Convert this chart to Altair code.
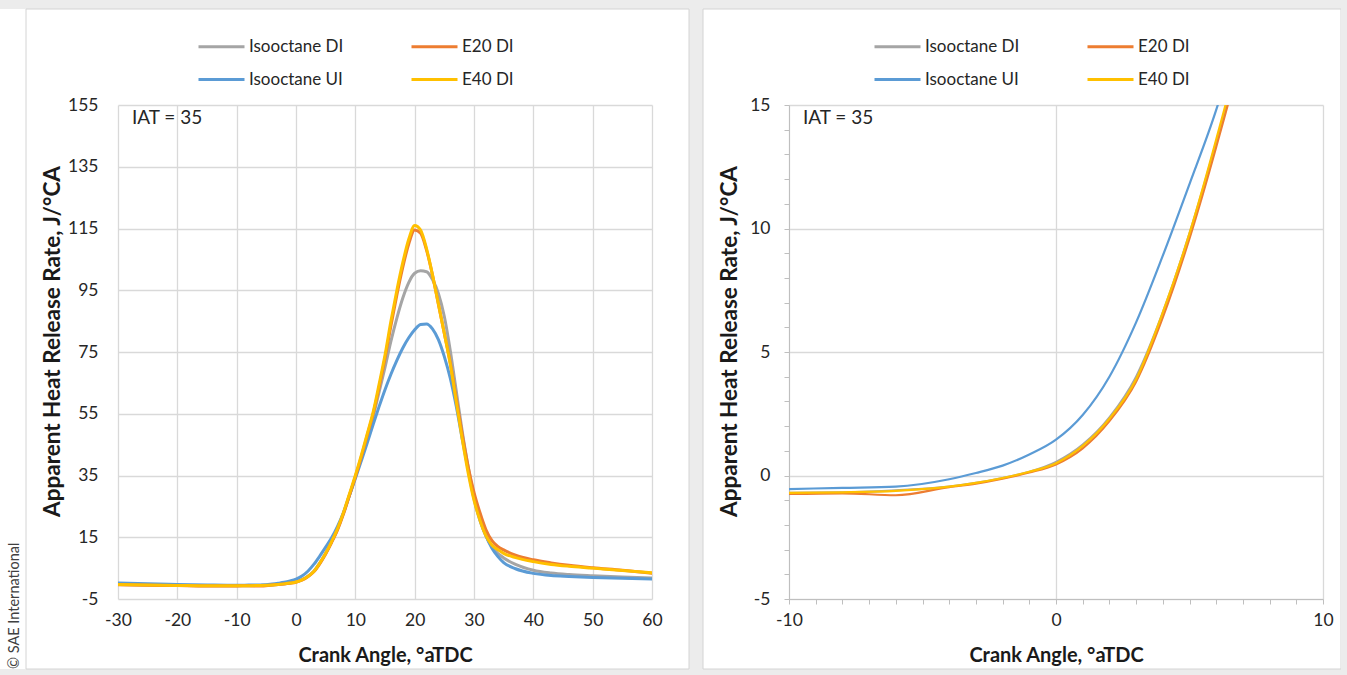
import altair as alt
import pandas as pd

FONT = "Lato"

# ---------------- data ----------------
series_names = ["Isooctane DI", "Isooctane UI", "E20 DI", "E40 DI"]   # drawing order
legend_order = ["Isooctane DI", "E20 DI", "Isooctane UI", "E40 DI"]
legend_colors = ["#A5A5A5", "#ED7D31", "#5B9BD5", "#FFC000"]

crank_angle = [-30, -25, -20, -15, -10, -8, -6, -4, -3, -2, -1,
               0, 1, 2, 3, 4, 5, 6, 7, 8, 9, 10, 11, 12, 13, 14, 15, 16, 17, 18, 19,
               20, 21, 22, 23, 24, 25, 26, 27, 28, 29, 30, 31, 32, 33, 34, 35,
               37, 40, 43, 46, 50, 55, 60]

isooctane_di = [-0.3, -0.5, -0.6, -0.7, -0.7, -0.68, -0.6, -0.45, -0.3, -0.1, 0.15,
                0.55, 1.25, 2.35, 4.0, 6.6, 9.8, 13.5, 17.6, 22.8, 28.5, 34.5, 40.5, 47, 54, 62, 70, 78.5, 86, 92.5, 97.5,
                100.5, 101.3, 101, 98.5, 94, 86.5, 75.5, 62.5, 49.5, 38, 28.5, 21, 15.5, 12, 9.8, 8.3,
                6.2, 4.3, 3.4, 2.9, 2.5, 2.1, 1.8]

isooctane_ui = [0.2, -0.1, -0.3, -0.45, -0.55, -0.5, -0.45, -0.15, 0.1, 0.4, 0.85,
                1.45, 2.45, 4.0, 6.2, 8.9, 11.8, 14.8, 18.5, 23, 28.5, 34, 39.7, 45.5, 51.5, 57.3, 62.8, 67.8, 72.3, 76.3, 79.6,
                82.2, 83.9, 84.1, 82.5, 79, 73.5, 66.5, 57.5, 47, 37, 27.5, 20.5, 15.5, 11.5, 8.8, 6.8,
                4.8, 3.3, 2.6, 2.3, 2.0, 1.7, 1.5]

e20_di = [-0.4, -0.55, -0.65, -0.75, -0.75, -0.72, -0.8, -0.47, -0.33, -0.13, 0.12,
          0.45, 1.1, 2.2, 3.8, 6.4, 9.6, 13.3, 17.4, 22.5, 28.5, 34.5, 41, 48, 55, 63.5, 73, 83.5, 93.5, 102.5, 110,
          114.5, 113.5, 108, 100, 90.5, 81, 71.5, 60, 48.5, 38, 29.5, 23, 17.5, 14, 12, 10.9,
          9.2, 7.7, 6.7, 5.9, 5.1, 4.3, 3.3]

e40_di = [-0.3, -0.5, -0.6, -0.7, -0.7, -0.68, -0.62, -0.45, -0.3, -0.1, 0.15,
          0.5, 1.2, 2.3, 3.9, 6.6, 9.8, 13.6, 17.8, 23, 29, 35, 41.5, 48.5, 55.5, 64.5, 74, 85, 95, 104, 111.5,
          116, 114.5, 108.5, 100, 90.5, 81, 71, 59, 47, 36, 27, 20.5, 15.5, 12.5, 11, 9.8,
          8.4, 7.1, 6.2, 5.6, 5.0, 4.2, 3.5]

values_by_series = [isooctane_di, isooctane_ui, e20_di, e40_di]

rows = []
for name, vals in zip(series_names, values_by_series):
    for x, v in zip(crank_angle, vals):
        rows.append({"Fuel": name, "CA": x, "HRR": v})
df = pd.DataFrame(rows)

one = pd.DataFrame({"k": [0]})

W, H = 534, 494
GRID = "#d9d9d9"
TXT = "#262626"
TITLE = "#1a1a1a"
HYPHEN = "replace(datum.label, '\u2212', '-')"


def legend(lx):
    return alt.Legend(title=None, orient="none", legendX=lx, legendY=-83,
                      direction="horizontal", columns=2, symbolType="stroke",
                      symbolSize=2116, symbolStrokeWidth=2.8, labelFont=FONT,
                      labelFontSize=17, labelColor=TXT, labelOffset=3,
                      columnPadding=61, rowPadding=-18)


def color_enc(lx):
    return alt.Color("Fuel:N", scale=alt.Scale(domain=legend_order, range=legend_colors),
                     legend=legend(lx))


def deco_rect(x, x2, y, y2, **kw):
    return alt.Chart(one).mark_rect(**kw).encode(
        x=alt.value(x), x2=alt.value(x2), y=alt.value(y), y2=alt.value(y2))


def iat_text():
    return alt.Chart(one).mark_text(text="IAT = 35", align="left", baseline="middle",
                                    font=FONT, fontSize=19, color=TXT).encode(
        x=alt.value(14), y=alt.value(13))


# ---------------- left panel ----------------
left_lines = alt.Chart(df).mark_line(strokeWidth=3, strokeCap="round", strokeJoin="round",
                                     interpolate="monotone", clip=True).encode(
    x=alt.X("CA:Q", scale=alt.Scale(domain=[-30, 60], nice=False, zero=False),
            axis=alt.Axis(values=list(range(-30, 61, 10)), title="Crank Angle, °aTDC",
                          labelExpr=HYPHEN, titleFontSize=20,
                          grid=True, ticks=False, domain=False, labelFlush=False,
                          labelPadding=12, titlePadding=17)),
    y=alt.Y("HRR:Q", scale=alt.Scale(domain=[-5, 155], nice=False, zero=False),
            axis=alt.Axis(values=list(range(-5, 156, 20)), title="Apparent Heat Release Rate, J/°CA",
                          labelExpr=HYPHEN, titleFontSize=22.5, titleY=236,
                          grid=True, ticks=False, domain=False, labelPadding=20, titlePadding=3)),
    color=color_enc(79),
)

left = alt.layer(
    deco_rect(-118, 1229, -105, -96, color="#ececec"),
    deco_rect(571, 585, -96, 564, color="#ececec"),
    deco_rect(-118, 1229, 564, 570, color="#ececec"),
    deco_rect(-92, 571, -96, 564, fillOpacity=0, stroke="#d4d4d4", strokeWidth=1),
    left_lines,
    iat_text(),
    alt.Chart(one).mark_text(text="© SAE International", angle=270, align="left",
                             baseline="middle", font=FONT, fontSize=14.5, color="#404040").encode(
        x=alt.value(-103), y=alt.value(564)),
).properties(width=W, height=H)

# ---------------- right panel ----------------
right_lines = alt.Chart(df).transform_filter(
    "datum.CA >= -10 && datum.CA <= 10"
).mark_line(strokeWidth=2.2, strokeCap="round", strokeJoin="round",
            interpolate="monotone", clip=True).encode(
    x=alt.X("CA:Q", scale=alt.Scale(domain=[-10, 10], nice=False, zero=False),
            axis=alt.Axis(values=list(range(-10, 11)), title="Crank Angle, °aTDC",
                          labelExpr="datum.value % 10 === 0 ? " + HYPHEN + " : ''",
                          gridOpacity={"condition": {"test": "datum.value % 10 === 0", "value": 1}, "value": 0},
                          titleFontSize=20,
                          grid=True, ticks=True, tickSize=5, domain=True, labelFlush=False,
                          labelOverlap=False, labelPadding=7, titlePadding=17)),
    y=alt.Y("HRR:Q", scale=alt.Scale(domain=[-5, 15], nice=False, zero=False),
            axis=alt.Axis(values=list(range(-5, 16)), title="Apparent Heat Release Rate, J/°CA",
                          labelExpr="datum.value % 5 === 0 ? " + HYPHEN + " : ''",
                          gridOpacity={"condition": {"test": "datum.value % 5 === 0", "value": 1}, "value": 0},
                          titleFontSize=22.5, titleY=236,
                          grid=True, ticks=True, tickSize=5, domain=True, labelOverlap=False,
                          labelPadding=14, titlePadding=8)),
    color=color_enc(84),
)

right = alt.layer(
    deco_rect(-86, 552, -96, 564, fillOpacity=0, stroke="#d4d4d4", strokeWidth=1),
    deco_rect(552, 558, -96, 564, color="#ececec"),
    right_lines,
    iat_text(),
).properties(width=W, height=H)

chart = alt.hconcat(left, right, spacing=137, bounds="flush").resolve_scale(
    color="independent"
).properties(
    padding=0, background="white"
).configure_view(
    stroke=None
).configure_axis(
    labelFont=FONT, titleFont=FONT, labelFontSize=17.5, titleFontSize=20,
    titleFontWeight="bold", labelColor=TXT, titleColor=TITLE,
    gridColor=GRID, gridWidth=1.3, domainColor="#bfbfbf", tickColor="#bfbfbf"
)

chart.save("out.html", embed_options={"renderer": "svg", "actions": False})
